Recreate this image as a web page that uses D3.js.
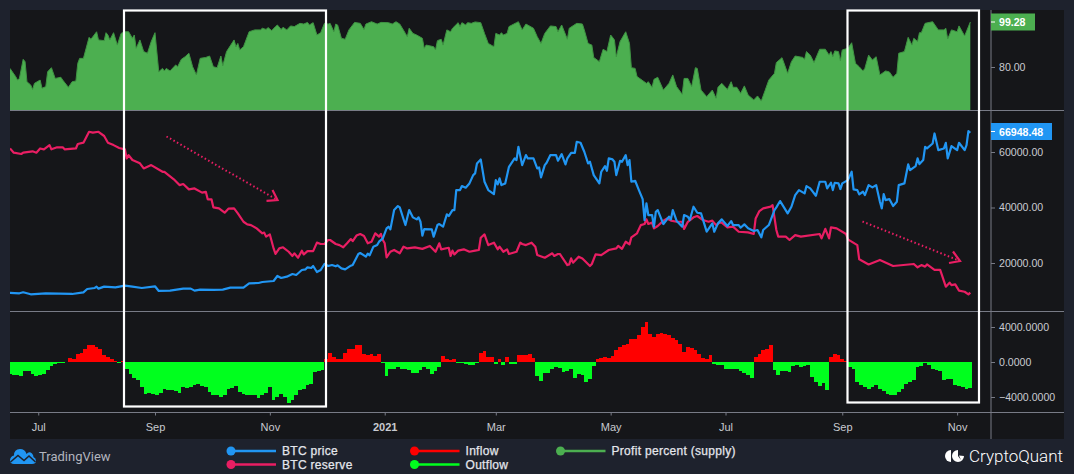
<!DOCTYPE html>
<html>
<head>
<meta charset="utf-8">
<script src="https://cdn.jsdelivr.net/npm/d3@7"></script>
<style>
  html, body { margin: 0; padding: 0; background: #1e222d; overflow: hidden; }
  svg { display: block; }
  text { font-family: "Liberation Sans", Arial, sans-serif; }
</style>
</head>
<body>
<div id="d3"></div>
<script>
// every series is [days since firstDay, value]
const firstDay = new Date(2020, 5, 16);

const timeTickDates = [new Date(2020,6,1), new Date(2020,8,1), new Date(2020,10,1), new Date(2021,0,1),
                       new Date(2021,2,1), new Date(2021,4,1), new Date(2021,6,1), new Date(2021,8,1), new Date(2021,10,1)];
const timeTickLabels = ["Jul", "Sep", "Nov", "2021", "Mar", "May", "Jul", "Sep", "Nov"];

const profitTicks = [80];
const priceTicks = [20000, 40000, 60000];
const netflowTicks = [-4000, 0, 4000];
const lastProfit = 99.28;
const lastPrice = 66948.48;

const profitPercent = [[0,79.4],[3,75.9],[4,74.4],[5,75.1],[7,83.3],[8,82.3],[9,73.7],[11,72.3],[12,70.4],[13,73],[16,74.4],[17,70.9],[19,71.6],[20,78],[22,79.7],[24,75.1],[27,75.6],[28,74.4],[31,71.3],[33,73.7],[35,74],[36,81.6],[37,83.7],[39,83.7],[42,92.7],[43,91.9],[46,95.1],[47,91.6],[50,91.3],[51,94.7],[52,93.7],[53,91.6],[55,94.7],[57,89.4],[59,94.4],[61,95.1],[63,95.1],[65,92.3],[66,93.7],[67,88],[69,91.6],[71,86.6],[73,85.9],[75,90.9],[77,94.7],[79,78],[81,79.4],[82,78.3],[83,79.4],[85,78.3],[88,80.9],[89,80.1],[91,83.3],[93,84.4],[95,85.9],[97,80.1],[99,76.6],[101,83.7],[104,84.1],[106,84.7],[108,80.1],[110,79.7],[112,84.7],[113,80.5],[115,86.6],[119,91.6],[120,88.7],[121,90.1],[122,87.3],[124,88.7],[127,95.1],[130,95.9],[133,95.9],[134,96.6],[136,96.1],[137,96.9],[139,95.6],[141,97.3],[142,98],[144,96.1],[145,97],[147,95.9],[149,97.6],[151,97.3],[154,98.7],[156,98.4],[158,99.1],[159,98],[161,99],[163,93.7],[165,94.7],[167,98.7],[169,98.4],[170,98.7],[172,95.1],[173,98.4],[174,98],[176,92.3],[178,91.9],[180,95.9],[183,99.1],[186,98.7],[188,96.1],[189,98.4],[192,99.4],[195,98.4],[197,99.1],[201,99],[203,98.4],[205,99.4],[207,98.4],[210,94.4],[211,93],[212,96.6],[214,94.4],[216,93.7],[219,92.3],[220,88],[221,89.4],[225,88.7],[226,87.3],[227,91.3],[229,91.9],[230,89.4],[232,95.9],[234,95.1],[235,96.6],[238,99],[239,97.3],[240,99],[242,98],[243,99],[245,98.7],[247,99.3],[250,99],[252,94.4],[254,90.1],[257,88.7],[258,94.4],[260,93.7],[261,94.7],[262,93.7],[264,94.4],[265,97.3],[269,99],[270,99.4],[272,95.9],[274,98.4],[278,96.6],[280,93],[282,90.1],[284,94.4],[287,97.6],[290,97.3],[291,95.1],[293,98],[296,91.9],[297,96.6],[301,98.7],[304,98.4],[305,95.9],[307,90.1],[309,89.4],[310,84.1],[313,82.3],[315,87.6],[317,86.6],[319,93.7],[320,92.7],[321,91.6],[322,84.4],[324,90.9],[327,95.1],[329,90.1],[330,79.7],[332,79.4],[333,75.9],[338,73],[339,73.7],[341,71.3],[342,74.7],[344,75.6],[347,70.1],[350,73],[352,76.6],[354,71.6],[357,68.3],[358,75.1],[360,75.1],[362,71.6],[364,79.7],[365,79.4],[367,70.1],[370,67.3],[373,70.1],[375,66.6],[376,71.3],[378,73],[381,70.4],[383,73.7],[384,71.3],[386,71.3],[388,68.7],[390,71.9],[392,68],[395,65.9],[397,67.6],[399,65.4],[401,69.9],[403,74.4],[406,77.3],[407,81.9],[410,84],[413,77.3],[415,82.3],[417,84.7],[421,84.1],[422,83.3],[423,86.6],[425,85.1],[427,81.9],[430,87.6],[433,87.6],[435,85.1],[436,86.6],[437,84.4],[438,86.9],[440,86.6],[441,82.7],[442,87.3],[445,88],[447,90.4],[449,81.6],[451,80.1],[453,78.3],[454,79.4],[456,85.1],[458,83],[460,84.4],[462,76.6],[465,78.3],[467,77.9],[469,75.6],[471,77.3],[472,85.9],[475,86.6],[477,92.7],[479,89.4],[480,92.3],[482,90.9],[483,94.7],[484,94.7],[486,98.7],[490,99.4],[493,95.9],[496,95.9],[497,96.6],[498,92],[500,95.9],[503,95.1],[504,97.6],[507,93.3],[510,99.28]];

const btcPrice = [[0,9200],[5,9080],[7,9440],[11,8720],[19,9080],[33,8840],[39,9440],[41,10640],[45,11000],[46,11480],[47,10760],[50,11480],[56,11240],[61,11840],[65,11480],[70,11000],[77,11600],[79,9920],[85,10040],[92,10760],[96,10760],[98,10040],[101,10400],[108,10280],[113,10400],[117,11120],[124,11120],[127,12680],[132,12800],[134,13160],[140,13520],[142,15320],[144,14600],[147,15080],[150,16040],[152,15680],[155,17480],[157,17720],[158,18440],[160,18200],[161,18920],[163,16760],[165,17480],[167,19640],[169,18920],[171,19280],[173,18800],[174,19160],[176,18080],[178,17720],[181,19040],[182,19280],[185,23240],[186,23600],[188,22760],[189,22280],[190,23360],[191,22760],[193,25880],[195,26480],[196,27680],[198,28880],[200,32480],[201,33080],[202,32120],[204,39080],[206,40520],[207,40040],[210,33680],[212,39080],[214,36440],[216,35720],[217,36440],[218,34880],[219,29840],[220,32240],[224,32120],[225,29480],[227,33680],[228,34040],[230,33080],[232,37520],[233,36920],[235,39080],[236,39080],[237,46280],[239,46280],[240,47720],[242,47120],[244,48680],[246,51680],[247,52280],[248,55880],[250,57320],[252,49280],[254,46280],[257,44840],[258,49880],[259,48320],[260,50480],[261,48080],[263,48680],[265,54680],[268,57680],[269,57080],[270,61880],[272,55280],[274,58880],[275,57680],[278,57680],[280,54080],[281,54440],[282,50840],[284,55280],[285,56120],[287,58880],[290,58880],[291,56840],[293,59240],[295,55520],[296,57680],[298,59720],[300,59720],[301,63680],[303,63320],[305,60080],[307,55880],[308,56480],[310,51680],[313,48680],[314,52880],[316,54920],[317,53240],[318,57680],[320,57320],[321,56480],[322,51680],[324,56840],[325,56480],[327,58880],[328,55280],[329,57080],[330,49280],[332,49640],[334,46280],[336,43040],[337,35480],[338,41480],[339,37280],[341,37280],[342,33080],[343,38480],[344,39080],[347,34040],[350,36680],[351,35720],[352,39080],[354,35240],[357,33080],[358,37280],[360,36680],[361,35480],[363,40280],[365,38120],[367,37880],[370,31280],[373,34280],[374,31280],[376,34280],[378,35720],[381,33320],[383,35120],[384,33680],[387,33680],[388,32720],[390,33920],[392,32480],[395,31520],[397,31880],[399,29240],[400,31880],[403,33680],[406,39080],[407,40040],[409,42320],[413,37880],[415,40280],[417,44480],[419,46280],[422,45080],[423,47720],[425,46880],[428,44240],[430,49280],[433,49280],[434,46880],[436,48920],[437,46280],[438,48920],[440,48680],[441,46640],[442,48680],[445,49880],[447,52880],[448,46520],[450,46280],[451,44720],[453,45680],[454,44480],[456,48080],[458,47240],[460,48080],[462,42080],[463,39680],[464,44840],[465,42680],[467,43040],[469,40520],[471,42080],[472,48080],[475,48680],[477,55520],[478,53480],[481,54920],[482,57680],[483,55640],[485,57080],[486,61880],[487,61280],[490,63080],[491,66680],[493,60680],[496,61280],[497,63320],[498,57680],[500,62120],[503,60680],[504,63320],[507,60680],[508,62480],[509,67520],[510,66948.48]];

// reserve has no axis in the picture, thousands of BTC is a guess at the units
const btcReserve = [[0,3052],[2,3033],[6,3027],[7,3033],[12,3039],[14,3033],[16,3052],[18,3048],[21,3067],[22,3048],[25,3057],[28,3057],[29,3048],[35,3052],[36,3072],[39,3078],[42,3127],[44,3123],[47,3127],[50,3108],[52,3078],[55,3067],[58,3054],[61,3048],[62,3007],[63,3022],[65,3000],[69,2985],[71,2962],[75,2977],[81,2947],[82,2947],[87,2913],[90,2887],[92,2892],[95,2868],[98,2872],[102,2853],[104,2857],[105,2823],[107,2823],[108,2787],[111,2782],[114,2763],[116,2781],[119,2782],[121,2760],[124,2722],[126,2710],[128,2707],[131,2692],[134,2670],[135,2673],[136,2655],[138,2665],[140,2602],[141,2577],[143,2602],[145,2607],[148,2587],[150,2568],[151,2580],[153,2560],[155,2592],[156,2575],[158,2590],[161,2590],[163,2628],[165,2622],[167,2622],[169,2640],[170,2640],[173,2622],[175,2617],[177,2607],[179,2625],[181,2644],[182,2635],[184,2660],[186,2667],[188,2658],[190,2625],[192,2632],[194,2670],[196,2655],[197,2667],[198,2640],[199,2625],[200,2562],[202,2587],[204,2595],[207,2580],[209,2610],[211,2602],[215,2607],[219,2600],[223,2613],[226,2587],[228,2625],[229,2598],[233,2605],[234,2568],[235,2592],[236,2575],[238,2592],[241,2598],[244,2587],[247,2592],[249,2595],[250,2650],[252,2665],[254,2617],[257,2628],[259,2598],[260,2610],[262,2587],[264,2598],[265,2577],[269,2587],[271,2628],[272,2622],[274,2617],[277,2628],[279,2610],[280,2572],[284,2560],[288,2580],[289,2568],[291,2577],[292,2577],[296,2527],[297,2530],[298,2557],[299,2538],[302,2565],[304,2557],[308,2523],[309,2532],[311,2575],[314,2572],[318,2595],[322,2602],[323,2613],[325,2600],[327,2632],[329,2620],[330,2652],[333,2670],[335,2707],[337,2712],[338,2733],[339,2712],[341,2718],[342,2692],[344,2703],[347,2727],[349,2737],[351,2727],[354,2722],[357,2722],[358,2690],[360,2722],[363,2742],[365,2748],[368,2730],[371,2722],[373,2727],[375,2707],[377,2719],[378,2718],[381,2697],[384,2700],[387,2677],[392,2674],[395,2667],[396,2737],[398,2770],[400,2782],[404,2790],[405,2797],[407,2685],[408,2655],[412,2655],[414,2640],[417,2662],[420,2655],[430,2667],[431,2647],[433,2690],[435,2647],[436,2697],[439,2692],[444,2667],[445,2643],[450,2617],[451,2553],[456,2530],[462,2550],[469,2523],[480,2532],[482,2517],[484,2527],[486,2520],[487,2530],[491,2505],[494,2505],[497,2430],[499,2448],[500,2437],[502,2440],[504,2412],[507,2407],[509,2395],[510,2403]];

// one value every netflowStep days, above zero is inflow, below zero is outflow
const netflowStep = 2;
const netflowValues = [-1330,-1444,-1520,-1634,-1064,-1064,-1330,-1596,-1444,-1330,-950,-456,-190,-114,-76,-38,494,380,950,1064,1520,1976,1900,1672,1444,836,532,304,152,-76,114,
  -836,-1330,-1824,-2090,-2850,-3610,-3496,-3610,-3724,-3496,-3040,-3230,-3230,-3344,-3496,-2850,-2964,-2850,-2660,-2546,-2736,-2850,-3420,-3800,-3724,-3990,-3800,-3040,-2964,-2736,-3420,-3610,-3724,-3800,-3800,-4104,-3800,-3496,-2850,-4370,-3990,-3610,-3990,-4636,-4370,-3800,-3230,-3040,-2660,-2470,-1140,-1026,-912,
  380,1064,570,380,304,1064,1444,1520,1900,1900,950,760,950,684,912,-76,-1596,-760,-760,-570,-760,-836,-950,-1254,-1254,-950,-570,-760,-1330,-1064,-570,684,304,228,304,-114,-114,-228,-380,-304,-76,1064,1216,570,570,-190,304,-304,570,-228,-228,836,760,836,950,456,
  -1596,-2204,-1216,-1216,-760,-570,-684,-1140,-1064,-836,-1824,-1330,-1444,-2280,-1900,-456,304,456,570,456,684,1330,1710,1976,2090,2660,2584,3040,3990,4560,3230,2850,3230,3268,3230,3040,2736,2470,2090,1140,1710,1596,1330,950,456,380,760,
  -190,-304,-304,-760,-760,-836,-836,-1064,-1216,-1444,-1824,570,950,1330,1444,1900,-950,-1444,-1064,-1064,-1140,-456,-380,-532,-456,-304,-1710,-2280,-2736,-2356,-3230,570,950,760,304,152,
  -570,-836,-2280,-2584,-2850,-3040,-2850,-2660,-3040,-3344,-3610,-3724,-3800,-3420,-3040,-2470,-2280,-2090,-570,-456,-114,-304,-760,-950,-1064,-2090,-1900,-1976,-2584,-2736,-2850,-3040,-2964];

const legendItems = [
  {name: "BTC price", color: "#2196f3", x: 231, y: 451},
  {name: "BTC reserve", color: "#e91e63", x: 231, y: 464.5},
  {name: "Inflow", color: "#ff0000", x: 414.5, y: 451},
  {name: "Outflow", color: "#00ff1e", x: 414.5, y: 464.5},
  {name: "Profit percent (supply)", color: "#4caf50", x: 560.5, y: 451}
];

const width = 1074, height = 474;
const left = 10, right = 1064, top0 = 10, bottom0 = 439, axisX = 991;
const paneBg = "#151619", gridColor = "#787b86", tickText = "#c8cad0";

const svg = d3.select("#d3").append("svg").attr("width", width).attr("height", height);

const dayDate = d => d3.timeDay.offset(firstDay, d);

const x = d3.scaleTime().domain([firstDay, dayDate(510)]).range([left, 970.3]);
const yProfit = d3.scaleLinear().domain([80, 99.28]).range([67, 22]);
const yPrice = d3.scaleLinear().domain([20000, 60000]).range([263, 152]);
const yReserve = d3.scaleLinear().domain([2400, 3000]).range([293.3, 160]);
const yNetflow = d3.scaleLinear().domain([-4000, 4000]).range([397, 327]);

svg.append("rect").attr("x", left).attr("y", top0).attr("width", right - left).attr("height", bottom0 - top0).attr("fill", paneBg);

svg.append("defs").append("clipPath").attr("id", "plot")
  .append("rect").attr("x", left).attr("y", top0).attr("width", axisX - left).attr("height", 402);

const plot = svg.append("g").attr("clip-path", "url(#plot)");

// profit percent pane
plot.append("path").datum(profitPercent)
  .attr("fill", "#4caf50")
  .attr("d", d3.area().x(d => x(dayDate(d[0]))).y0(110).y1(d => yProfit(d[1])));
plot.append("path").datum(profitPercent)
  .attr("fill", "none").attr("stroke", "#3f9443").attr("stroke-width", 1)
  .attr("d", d3.line().x(d => x(dayDate(d[0]))).y(d => yProfit(d[1])));

// price and reserve pane
plot.append("path").datum(btcReserve)
  .attr("fill", "none").attr("stroke", "#e91e63").attr("stroke-width", 2.2).attr("stroke-linejoin", "round")
  .attr("d", d3.line().x(d => x(dayDate(d[0]))).y(d => yReserve(d[1])));
plot.append("path").datum(btcPrice)
  .attr("fill", "none").attr("stroke", "#2196f3").attr("stroke-width", 2.2).attr("stroke-linejoin", "round")
  .attr("d", d3.line().x(d => x(dayDate(d[0]))).y(d => yPrice(d[1])));

// inflow and outflow bars
plot.selectAll(".bar").data(netflowValues).enter().append("rect")
  .attr("class", "bar")
  .attr("x", (d, i) => x(dayDate(i * netflowStep - 1)))
  .attr("width", (d, i) => x(dayDate(i * netflowStep + 1)) - x(dayDate(i * netflowStep - 1)))
  .attr("y", d => yNetflow(Math.max(d, 0)))
  .attr("height", d => Math.abs(yNetflow(d) - yNetflow(0)))
  .attr("fill", d => d >= 0 ? "#ff0000" : "#00ff1e")
  .attr("shape-rendering", "crispEdges");

// pane separators
[110.5, 311.5, 412.5].forEach(function(yy) {
  svg.append("line").attr("x1", left).attr("x2", right).attr("y1", yy).attr("y2", yy)
    .attr("stroke", gridColor).attr("stroke-width", 1);
});
svg.append("line").attr("x1", axisX).attr("x2", axisX).attr("y1", top0).attr("y2", bottom0)
  .attr("stroke", gridColor).attr("stroke-width", 1);

// axes
function styleAxis(g, size) {
  g.select(".domain").remove();
  g.selectAll("line").attr("stroke", gridColor);
  g.selectAll("text").attr("fill", tickText).style("font-size", size + "px");
}

svg.append("g").attr("transform", "translate(0,412.5)")
  .call(d3.axisBottom(x).tickValues(timeTickDates).tickSize(3).tickPadding(8)
    .tickFormat((d, i) => timeTickLabels[i]))
  .call(styleAxis, 11)
  .selectAll("text").style("font-weight", (d, i) => timeTickLabels[i] == "2021" ? "bold" : "normal");

[[yProfit, profitTicks, ".2f"], [yPrice, priceTicks, ".2f"], [yNetflow, netflowTicks, ".4f"]].forEach(function(a) {
  svg.append("g").attr("transform", "translate(" + axisX + ",0)")
    .call(d3.axisRight(a[0]).tickValues(a[1]).tickSize(4).tickPadding(4).tickFormat(d3.format(a[2])))
    .call(styleAxis, 10.6);
});

// last value badges
function badge(y, label, color, w) {
  svg.append("rect").attr("x", axisX).attr("y", y - 8.5).attr("width", w).attr("height", 17).attr("fill", color);
  svg.append("line").attr("x1", axisX).attr("x2", axisX + 4).attr("y1", y).attr("y2", y).attr("stroke", "#fff");
  svg.append("text").attr("x", axisX + 8).attr("y", y + 4).attr("fill", "#fff")
    .style("font-size", "10.6px").style("font-weight", "bold").text(label);
}
badge(yProfit(lastProfit), d3.format(".2f")(lastProfit), "#4caf50", 44);
badge(131.5, d3.format(".2f")(lastPrice), "#2196f3", 61);

// white boxes and dotted arrows drawn over the chart
[[124, 10.5, 202, 396], [847.5, 10.5, 131.5, 392]].forEach(function(b) {
  svg.append("rect").attr("x", b[0]).attr("y", b[1]).attr("width", b[2]).attr("height", b[3])
    .attr("fill", "none").attr("stroke", "#fff").attr("stroke-width", 2.2);
});

function arrow(x1, y1, x2, y2, h1x, h1y, h2x, h2y) {
  svg.append("line").attr("x1", x1).attr("y1", y1).attr("x2", x2).attr("y2", y2)
    .attr("stroke", "#e91e63").attr("stroke-width", 2).attr("stroke-dasharray", "1.5 2.5");
  svg.append("path").attr("d", d3.line()([[h1x, h1y], [x2, y2], [h2x, h2y]]))
    .attr("fill", "none").attr("stroke", "#e91e63").attr("stroke-width", 2.2);
}
arrow(166.5, 136.5, 277.5, 200, 272.5, 190, 266.5, 200.8);
arrow(862.5, 221.5, 960, 261, 953, 251.5, 949, 263);

// legend
const legend = svg.selectAll(".legend").data(legendItems).enter().append("g").attr("class", "legend");
legend.append("line")
  .attr("x1", d => d.x).attr("x2", d => d.x + 45).attr("y1", d => d.y).attr("y2", d => d.y)
  .attr("stroke", d => d.color).attr("stroke-width", 2.5);
legend.append("circle").attr("cx", d => d.x).attr("cy", d => d.y).attr("r", 4.5).attr("fill", d => d.color);
legend.append("text").attr("x", d => d.x + 51).attr("y", d => d.y + 4)
  .attr("fill", "#e4e6ec").attr("stroke", "#e4e6ec").attr("stroke-width", 0.25)
  .style("font-size", "12px").style("letter-spacing", "0.3px")
  .text(d => d.name);

// TradingView logo
svg.append("path")
  .attr("d", "M10 460 Q10.5 456 14 455.5 Q14 449 20 449 Q25 449 26.5 454 Q29 451 32 453.5 Q33.5 455 33.5 457 Q36 458 36 461 Q36 464 32 464 L14 464 Q10 464 10 460 Z")
  .attr("fill", "#2196f3");
svg.append("path").attr("d", "M10.5 462 L18 455.5 L24 460.5 L29 456 L35.5 462")
  .attr("fill", "none").attr("stroke", "#1e222d").attr("stroke-width", 1.6);
svg.append("text").attr("x", 39).attr("y", 461).attr("fill", "#b2b5be")
  .style("font-family", "Roboto").style("font-size", "13px").text("TradingView");

// CryptoQuant logo
svg.append("path").attr("d", "M951 450 A6 6 0 0 0 951 462 Z").attr("fill", "#fff");
svg.append("path").attr("d", "M958 450 A6 6 0 1 0 964 456 L959 455.5 L961 460 L958 456 Z").attr("fill", "#fff");
svg.append("text").attr("x", 969).attr("y", 462).attr("fill", "#fff")
  .style("font-family", "Roboto").style("font-size", "17px").style("font-weight", "300").text("CryptoQuant");
</script>
</body>
</html>
